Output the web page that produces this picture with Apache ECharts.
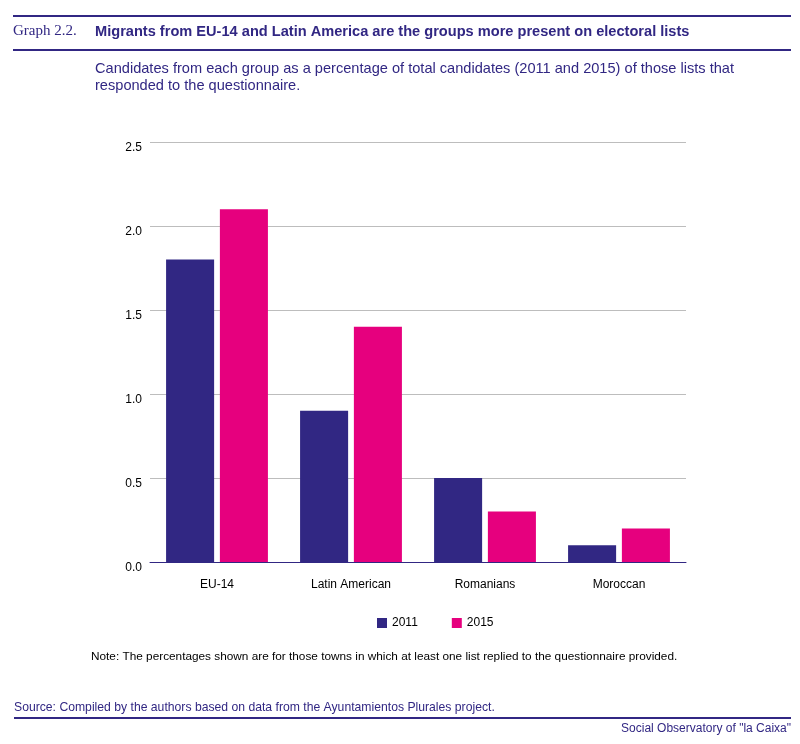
<!DOCTYPE html>
<html><head><meta charset="utf-8">
<script src="https://cdn.jsdelivr.net/npm/echarts@6/dist/echarts.min.js"></script>
<style>html,body{margin:0;padding:0;background:#fff}#c{width:800px;height:744px}</style>
</head><body><div id="c"></div>
<script>
var categories = ['EU-14', 'Latin American', 'Romanians', 'Moroccan'];
var series2011 = [1.8, 0.9, 0.5, 0.1];
var series2015 = [2.1, 1.4, 0.3, 0.2];
var yTicks = [0, 0.5, 1.0, 1.5, 2.0, 2.5];

var PURPLE = '#312783', MAGENTA = '#E6007E';
var SANS = '"Liberation Sans", Arial, sans-serif';
var chart = echarts.init(document.getElementById('c'));
chart.setOption({
  animation: false,
  backgroundColor: '#fff',
  textStyle: { fontFamily: SANS },
  grid: { left: 150, right: 114, top: 142, bottom: 182, containLabel: false },
  legend: {
    data: ['2011', '2015'], left: 372, top: 612, itemWidth: 10, itemHeight: 10, itemGap: 34,
    icon: 'rect', textStyle: { fontSize: 12, color: '#000', fontFamily: SANS }
  },
  xAxis: {
    type: 'category', data: categories,
    axisLine: { lineStyle: { color: PURPLE, width: 1 } },
    axisTick: { show: false },
    axisLabel: { fontSize: 12, color: '#000', margin: 17, fontFamily: SANS }
  },
  yAxis: {
    type: 'value', min: 0, max: 2.5, interval: 0.5,
    axisLine: { show: false }, axisTick: { show: false },
    splitLine: { lineStyle: { color: '#bdbdbd' } },
    axisLabel: { fontSize: 12, color: '#000', margin: 8, verticalAlign: 'top', lineHeight: 11, fontFamily: SANS,
      formatter: function (v) { return yTicks.indexOf(v) >= 0 ? v.toFixed(1) : ''; } }
  },
  series: [
    { name: '2011', type: 'bar', data: series2011, barCategoryGap: '24%', barGap: '12%',
      itemStyle: { color: PURPLE } },
    { name: '2015', type: 'bar', data: series2015,
      itemStyle: { color: MAGENTA } }
  ],
  graphic: [
    { type: 'rect', shape: { x: 13, y: 15, width: 778, height: 2 }, style: { fill: PURPLE } },
    { type: 'text', left: 13, top: 24, style: { text: 'Graph 2.2.', fontSize: 15, fill: PURPLE, fontFamily: '"Liberation Serif", serif' } },
    { type: 'text', left: 95, top: 24, style: { text: 'Migrants from EU-14 and Latin America are the groups more present on electoral lists', fontSize: 14.6, fontWeight: 'bold', fill: PURPLE, fontFamily: SANS } },
    { type: 'rect', shape: { x: 13, y: 49, width: 778, height: 2 }, style: { fill: PURPLE } },
    { type: 'text', left: 95, top: 60, style: { text: 'Candidates from each group as a percentage of total candidates (2011 and 2015) of those lists that\nresponded to the questionnaire.', fontSize: 14.6, lineHeight: 17, fill: PURPLE, fontFamily: SANS } },
    { type: 'text', left: 91, top: 651, style: { text: 'Note: The percentages shown are for those towns in which at least one list replied to the questionnaire provided.', fontSize: 11.8, fill: '#000', fontFamily: SANS } },
    { type: 'text', left: 14, top: 702, style: { text: 'Source: Compiled by the authors based on data from the Ayuntamientos Plurales project.', fontSize: 12.2, fill: PURPLE, fontFamily: SANS } },
    { type: 'rect', shape: { x: 14, y: 717, width: 777, height: 2 }, style: { fill: PURPLE } },
    { type: 'text', right: 9, top: 723, style: { text: 'Social Observatory of "la Caixa"', fontSize: 12, fill: PURPLE, fontFamily: SANS } }
  ]
});
</script></body></html>
